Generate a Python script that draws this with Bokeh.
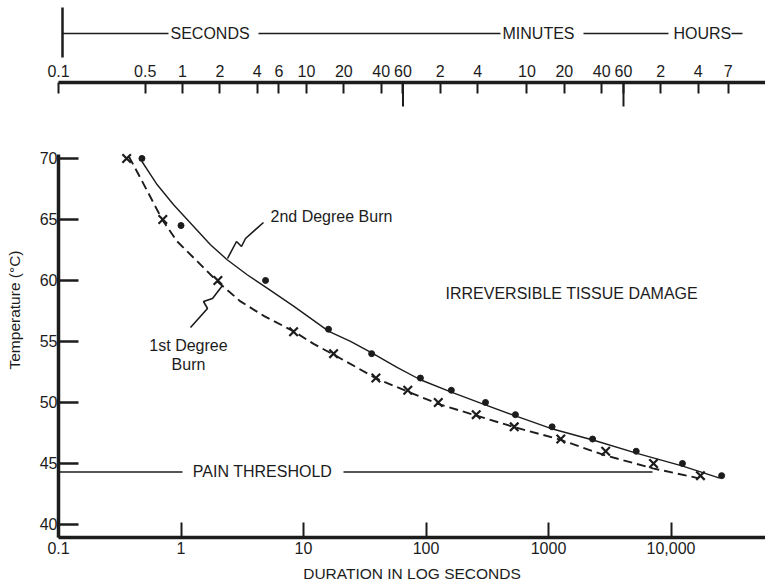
from bokeh.plotting import figure
from bokeh.models import Range1d, LogScale, LogAxis, FixedTicker, Label
from bokeh.layouts import column
from bokeh.embed import file_html
from bokeh.resources import INLINE

# ---------------- data ----------------
first_deg_s = [0.36, 0.71, 2, 8.3, 17.6, 39, 71, 126, 257, 525, 1260, 2930, 7200, 17400]
first_deg_t = [70, 65, 60, 55.8, 54, 52, 51, 50, 49, 48, 47, 46, 45, 44]
second_deg_s = [0.48, 1.0, 4.9, 16, 36, 90, 161, 306, 537, 1070, 2290, 5200, 12400, 25900]
second_deg_t = [70, 64.5, 60, 56, 54, 52, 51, 50, 49, 48, 47, 46, 45, 44]

curve_2nd_s = [0.48, 0.64, 0.87, 1.23, 1.74, 2.38, 3.47, 5.05, 8.3, 16.1, 24.2, 36.4,
               58, 90, 161, 279, 537, 1100, 2340, 5370, 12300, 25000]
curve_2nd_t = [69.75, 67.84, 66.2, 64.57, 62.93, 61.7, 60.47, 59.37, 57.9, 55.82, 55.0, 54.04,
               52.87, 51.86, 50.84, 49.94, 48.9, 47.8, 46.9, 45.8, 44.8, 43.8]
curve_1st_s = [0.375, 0.467, 0.703, 0.93, 1.36, 1.98, 3.06, 4.74, 8.34, 12.1, 17.7, 27.4, 38.7,
               68, 127, 263, 515, 1200, 2820, 7100, 16600]
curve_1st_t = [70.16, 68.39, 64.98, 63.2, 61.56, 59.92, 58.28, 57.1, 55.82, 54.8, 53.91, 52.85, 52.0,
               50.96, 49.86, 48.9, 48.0, 47.0, 45.7, 44.6, 43.8]

pain_threshold_t = 44.3

y_ticks = [40, 45, 50, 55, 60, 65, 70]
bottom_ticks = [0.1, 1, 10, 100, 1000, 10000]
bottom_tick_labels = ["0.1", "1", "10", "100", "1000", "10,000"]
top_ticks_s = [0.1, 0.5, 1, 2, 4, 6, 10, 20, 40, 60, 120, 240, 600, 1200, 2400, 3600, 7200, 14400, 25200]
top_tick_labels = ["0.1", "0.5", "1", "2", "4", "6", "10", "20", "40", "60",
                   "2", "4", "10", "20", "40", "60", "2", "4", "7"]
top_long_ticks_s = [60, 3600]

# ---------------- layout constants ----------------
FONT = "Liberation Sans"
INK = "#1c1c1c"
W = 765
LEFT = 58
FRAME_W = W - LEFT
PX_DEC_BOT = 122.5
PX_DEC_TOP = 124.0
PX_DEG = 12.2
X0 = 0.1
x_end = X0 * 10 ** (FRAME_W / PX_DEC_BOT)
top_end = X0 * 10 ** (FRAME_W / PX_DEC_TOP)
Y0 = 38.93
FRAME_H = 455
y_end = Y0 + FRAME_H / PX_DEG
TOP_B, BOT_B = 24, 47
BANNER_H = 58


def bx(px):
    return X0 * 10 ** ((px - LEFT) / PX_DEC_BOT)


def by(py):
    return Y0 + (537 - py) / PX_DEG


def tx(px):
    return X0 * 10 ** ((px - LEFT) / PX_DEC_TOP)


def ty(py):
    return (BANNER_H - py) / BANNER_H


# ---------------- banner figure ----------------
b = figure(width=W, height=BANNER_H, x_axis_type="log",
           x_range=Range1d(X0, top_end), y_range=Range1d(0, 1),
           toolbar_location=None, output_backend="svg",
           min_border_left=LEFT, min_border_right=0, min_border_top=0, min_border_bottom=0,
           x_axis_location=None, y_axis_location=None)
b.outline_line_color = None
b.grid.visible = False
b.segment(x0=[tx(62)], x1=[tx(62)], y0=[ty(57)], y1=[ty(7)], line_width=2.5, line_color=INK)
segs = [(62, 168), (258, 500), (583, 668), (731, 742)]
b.segment(x0=[tx(a) for a, _ in segs], x1=[tx(c) for _, c in segs],
          y0=[ty(33)] * len(segs), y1=[ty(33)] * len(segs), line_width=1.6, line_color=INK)
for txt, px in [("SECONDS", 170), ("MINUTES", 502), ("HOURS", 673)]:
    b.add_layout(Label(x=tx(px), y=ty(33), text=txt, text_font=FONT, text_font_size="16px",
                       text_color=INK, text_baseline="middle", text_align="left"))

# ---------------- main figure ----------------
p = figure(width=W, height=TOP_B + FRAME_H + BOT_B, x_axis_type="log",
           x_range=Range1d(X0, x_end), y_range=Range1d(Y0, y_end),
           toolbar_location=None, output_backend="svg",
           min_border_left=LEFT, min_border_right=0, min_border_top=TOP_B, min_border_bottom=BOT_B)
p.outline_line_color = None
p.grid.visible = False
p.background_fill_color = "white"

# axes
ax = p.xaxis[0]
ax.ticker = FixedTicker(ticks=bottom_ticks)
ax.major_label_overrides = {k: v for k, v in zip(bottom_ticks, bottom_tick_labels)}
ax.axis_line_width = 3.5
ax.axis_line_color = INK
ax.major_tick_in = 15
ax.major_tick_out = 0
ax.major_tick_line_width = 2
ax.major_tick_line_color = INK
ax.minor_tick_line_color = None
ax.major_label_standoff = 4
ax.major_label_text_font = FONT
ax.major_label_text_font_size = "16px"
ax.major_label_text_color = INK
ax.axis_label = "DURATION IN LOG SECONDS"
ax.axis_label_text_font = FONT
ax.axis_label_text_font_size = "15.5px"
ax.axis_label_text_font_style = "normal"
ax.axis_label_text_color = INK
ax.axis_label_standoff = 8

ay = p.yaxis[0]
ay.ticker = FixedTicker(ticks=y_ticks)
ay.bounds = (Y0, 70.3)
ay.axis_line_width = 3.5
ay.axis_line_color = INK
ay.major_tick_in = 20
ay.major_tick_out = 0
ay.major_tick_line_width = 2.5
ay.major_tick_line_color = INK
ay.minor_tick_line_color = None
ay.major_label_standoff = 1
ay.major_label_text_font = FONT
ay.major_label_text_font_size = "16px"
ay.major_label_text_color = INK
ay.axis_label = "Temperature (°C)"
ay.axis_label_text_font = FONT
ay.axis_label_text_font_size = "15.5px"
ay.axis_label_text_font_style = "normal"
ay.axis_label_text_color = INK
ay.axis_label_standoff = 14

# top time scale
p.extra_x_ranges = {"top": Range1d(X0, top_end)}
p.extra_x_scales = {"top": LogScale()}
top_axis = LogAxis(x_range_name="top", ticker=FixedTicker(ticks=top_ticks_s))
top_axis.major_label_overrides = {k: v for k, v in zip(top_ticks_s, top_tick_labels)}
top_axis.axis_line_width = 3.5
top_axis.axis_line_color = INK
top_axis.major_tick_in = 11
top_axis.major_tick_out = 0
top_axis.major_tick_line_width = 2
top_axis.major_tick_line_color = INK
top_axis.minor_tick_line_color = None
top_axis.major_label_standoff = 6
top_axis.major_label_text_font = FONT
top_axis.major_label_text_font_size = "16px"
top_axis.major_label_text_color = INK
p.add_layout(top_axis, "above")
p.segment(x0=top_long_ticks_s, x1=top_long_ticks_s,
          y0=[y_end] * len(top_long_ticks_s), y1=[y_end - 24 / PX_DEG] * len(top_long_ticks_s),
          x_range_name="top", line_width=2, line_color=INK)

# curves and points
p.line(curve_2nd_s, curve_2nd_t, line_width=1.4, line_color=INK)
p.line(curve_1st_s, curve_1st_t, line_width=1.9, line_color=INK, line_dash="9 5")
p.scatter(second_deg_s, second_deg_t, marker="circle", size=6, color=INK)
p.scatter(first_deg_s, first_deg_t, marker="x", size=12, line_width=2.2, line_color=INK)

# pain threshold
p.segment(x0=[X0, bx(343)], x1=[bx(182), bx(652)],
          y0=[pain_threshold_t] * 2, y1=[pain_threshold_t] * 2, line_width=1.6, line_color=INK)
p.add_layout(Label(x=bx(262), y=pain_threshold_t, text="PAIN THRESHOLD", text_font=FONT,
                   text_font_size="16px", text_color=INK, text_baseline="middle", text_align="center"))

# leader squiggles
sq2 = [(227, 258), (236, 241), (241, 246), (245, 238), (263, 222)]
p.line([bx(a) for a, _ in sq2], [by(c) for _, c in sq2], line_width=1.6, line_color=INK)
sq1 = [(222, 285), (212, 298), (203, 301), (207, 308), (190, 327)]
p.line([bx(a) for a, _ in sq1], [by(c) for _, c in sq1], line_width=1.6, line_color=INK)

for txt, px, py, align in [("2nd Degree Burn", 270, 216, "left"),
                           ("1st Degree", 188, 345, "center"),
                           ("Burn", 188, 364, "center"),
                           ("IRREVERSIBLE TISSUE DAMAGE", 445, 293, "left")]:
    p.add_layout(Label(x=bx(px), y=by(py), text=txt, text_font=FONT, text_font_size="16px",
                       text_color=INK, text_baseline="middle", text_align=align))

layout = column(b, p)
open("out.html", "w").write(file_html(layout, INLINE))
